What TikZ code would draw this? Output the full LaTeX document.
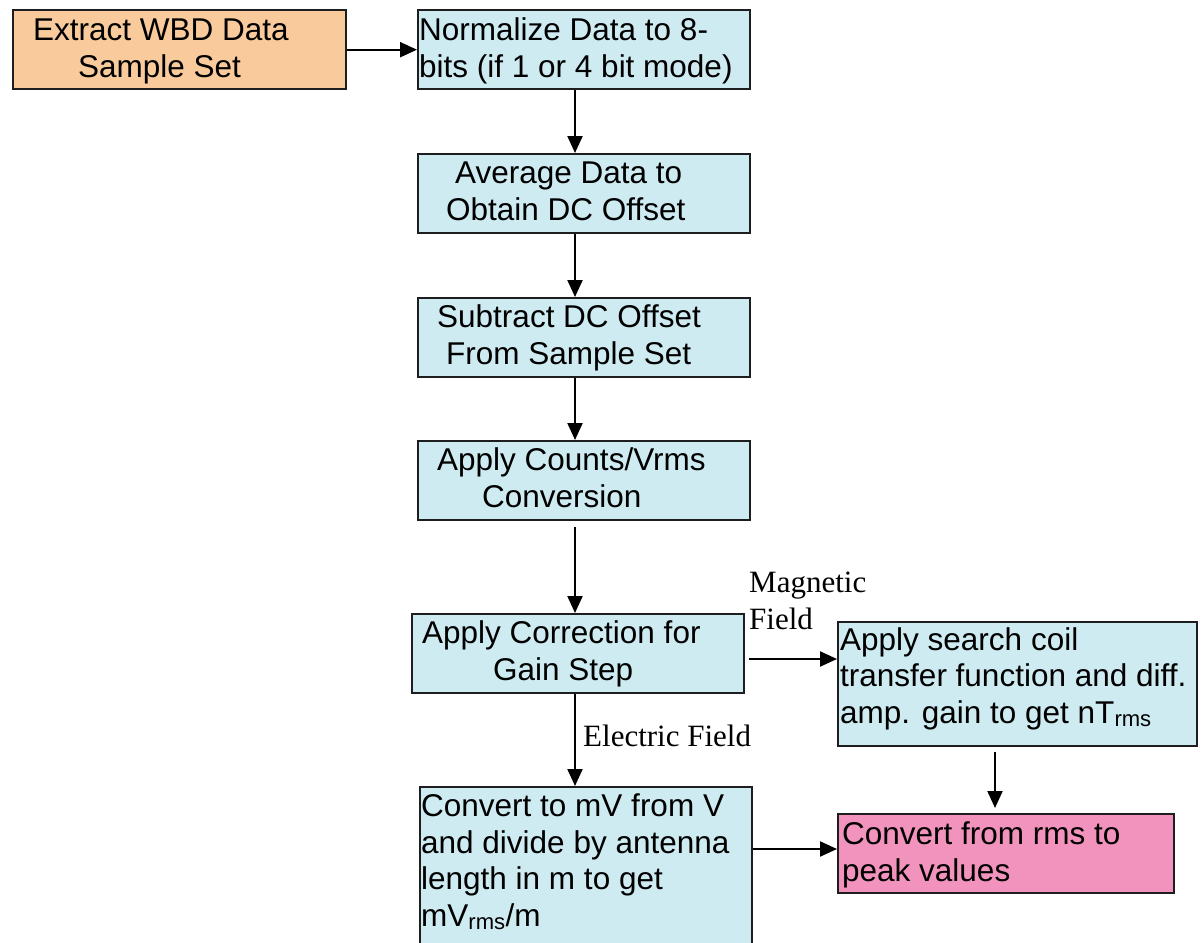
\documentclass[tikz,border=0pt]{standalone}
\usepackage{fontspec}
\setmainfont{Liberation Sans}
\newfontfamily\seriflabel{Liberation Serif}
\usetikzlibrary{arrows.meta}

\definecolor{boxblue}{RGB}{206,235,241}
\definecolor{boxpeach}{RGB}{249,203,156}
\definecolor{boxpink}{RGB}{241,147,188}
\definecolor{edge}{RGB}{30,30,30}

\begin{document}
\begin{tikzpicture}[x=1pt,y=-1pt,
  stage/.style={draw=edge, line width=2.4pt, fill=boxblue, inner sep=0pt, anchor=north west},
  boxtext/.style={font=\fontsize{31.5}{36.5}\selectfont, inner sep=0pt, align=left, anchor=base west},
  note/.style={font=\seriflabel\fontsize{31}{37}\selectfont, inner sep=0pt, align=left, anchor=base west},
  flow/.style={draw=black, line width=2.2pt, -{Triangle[length=17pt,width=15pt]}}]

\useasboundingbox (0,0) rectangle (1203,943);
\clip (0,0) rectangle (1203,943);

% processing stages
\node[stage, fill=boxpeach, minimum width=333pt, minimum height=79pt] (extract) at (12,9) {};
\node[stage, minimum width=332pt, minimum height=79pt] (norm) at (417,9) {};
\node[stage, minimum width=332pt, minimum height=79pt] (avg) at (417,153) {};
\node[stage, minimum width=332pt, minimum height=79pt] (sub) at (417,297) {};
\node[stage, minimum width=332pt, minimum height=79pt] (counts) at (417,440) {};
\node[stage, minimum width=332pt, minimum height=79pt] (gain) at (411,613) {};
\node[stage, minimum width=359pt, minimum height=124pt] (coil) at (837,621) {};
\node[stage, minimum width=332pt, minimum height=200pt] (efield) at (419,786) {};
\node[stage, fill=boxpink, minimum width=336pt, minimum height=79pt] (peak) at (837,813) {};

% stage texts (placed by the baseline of their last line)
\node[boxtext] (t-extract) at (33,77) {Extract WBD Data\\\hspace*{45pt}Sample Set};
\node[boxtext] (t-norm) at (419,77) {Normalize Data to 8-\\bits (if 1 or 4 bit mode)};
\node[boxtext] (t-avg) at (446,220) {\hspace*{9pt}Average Data to\\Obtain DC Offset};
\node[boxtext] (t-sub) at (437,364) {Subtract DC Offset\\\hspace*{9pt}From Sample Set};
\node[boxtext] (t-counts) at (437,507) {Apply Counts/Vrms\\\hspace*{45pt}Conversion};
\node[boxtext] (t-gain) at (422,680) {Apply Correction for\\\hspace*{71pt}Gain Step};
\node[boxtext] (t-coil) at (840,723) {Apply search coil\\transfer function and diff.\\amp. gain to get nT\textsubscript{rms}};
\node[boxtext] (t-efield) at (421,926) {Convert to mV from V\\and divide by antenna\\length in m to get\\mV\textsubscript{rms}/m};
\node[boxtext] (t-peak) at (842,881) {Convert from rms to\\peak values};

% branch labels
\node[note] (l-mag) at (749,629) {Magnetic\\Field};
\node[note] (l-elec) at (583,746) {Electric Field};

% connector guides
\coordinate (spine) at (575,0);
\coordinate (rcol) at (995,0);
\coordinate (magrow) at (0,659);
\coordinate (peakrow) at (0,849);

% connectors
\draw[flow] (extract.east) -- (norm.west);
\draw[flow] (norm.south -| spine) -- (avg.north -| spine);
\draw[flow] (avg.south -| spine) -- (sub.north -| spine);
\draw[flow] (sub.south -| spine) -- (counts.north -| spine);
\draw[flow, shorten <=6pt] (counts.south -| spine) -- (gain.north -| spine);
\draw[flow, shorten <=4pt] (gain.east |- magrow) -- (coil.west |- magrow);
\draw[flow] (gain.south -| spine) -- (efield.north -| spine);
\draw[flow, shorten <=5pt, shorten >=5pt] (coil.south -| rcol) -- (peak.north -| rcol);
\draw[flow] (efield.east |- peakrow) -- (peak.west |- peakrow);
\end{tikzpicture}
\end{document}
